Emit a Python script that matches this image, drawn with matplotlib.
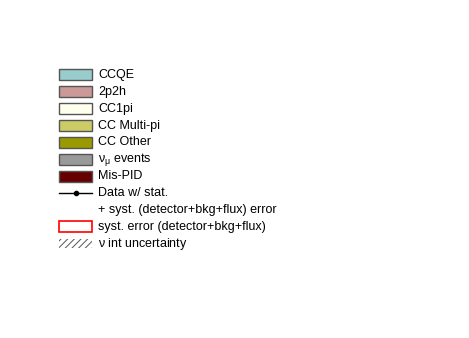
import matplotlib
matplotlib.use("Agg")
import matplotlib.pyplot as plt
from matplotlib.patches import Rectangle

plt.rcParams["font.family"] = ["Liberation Sans", "DejaVu Sans"]
plt.rcParams["mathtext.fontset"] = "custom"
plt.rcParams["mathtext.rm"] = "Liberation Sans"
plt.rcParams["mathtext.it"] = "Liberation Sans"
plt.rcParams["hatch.linewidth"] = 0.7

# legend entries
fill_labels = ["CCQE", "2p2h", "CC1pi", "CC Multi-pi", "CC Other",
               "$\\mathregular{\\nu_{\\mu}}$ events", "Mis-PID"]
fill_colors = ["#99cccc", "#cc9999", "#ffffee", "#cccc66", "#999900",
               "#999999", "#660000"]
data_labels = ["Data w/ stat.", "+ syst. (detector+bkg+flux) error"]
syst_label = "syst. error (detector+bkg+flux)"
hatch_label = "$\\mathregular{\\nu}$ int uncertainty"

fig = plt.figure(figsize=(4.69, 3.38), dpi=100)
ax = fig.add_axes([0, 0, 1, 1])
ax.set_xlim(0, 469)
ax.set_ylim(338, 0)
ax.axis("off")

x0, x1, xt = 59, 92, 98
y_first, step, h = 74.8, 16.9, 11
fs = 9.0

row = 0
for lab, col in zip(fill_labels, fill_colors):
    yc = y_first + row * step
    ax.add_patch(Rectangle((x0, yc - h / 2), x1 - x0, h, facecolor=col,
                           edgecolor="#555555", lw=1.0))
    ax.text(xt, yc, lab, fontsize=fs, va="center", ha="left")
    row += 1

# data w/ stat
yc = y_first + row * step
ax.plot([x0, x1], [yc, yc], color="black", lw=1.0)
ax.plot([(x0 + x1) / 2], [yc], "o", color="black", ms=3)
ax.text(xt, yc, data_labels[0], fontsize=fs, va="center", ha="left")
row += 1
yc = y_first + row * step
ax.text(xt, yc, data_labels[1], fontsize=fs, va="center", ha="left")
row += 1

# syst. error box
yc = y_first + row * step
ax.add_patch(Rectangle((x0, yc - h / 2), x1 - x0, h, facecolor="white",
                       edgecolor="red", lw=1.2))
ax.text(xt, yc, syst_label, fontsize=fs, va="center", ha="left")
row += 1

# hatched nu int uncertainty
yc = y_first + row * step
ax.add_patch(Rectangle((x0, yc - h / 2 + 1), x1 - x0, h - 2, facecolor="none",
                       edgecolor="#555555", lw=0, hatch="/////"))
ax.text(xt, yc, hatch_label, fontsize=fs, va="center", ha="left")

fig.savefig("out.png", dpi=100)
